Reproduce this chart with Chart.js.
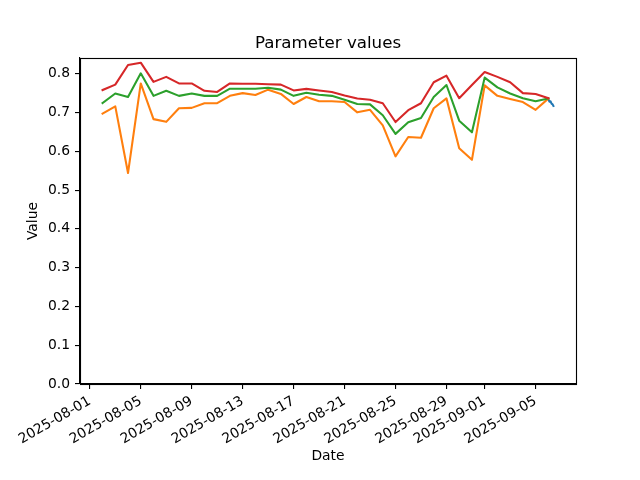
<!DOCTYPE html>
<html>
<head>
<meta charset="utf-8">
<script src="https://cdn.jsdelivr.net/npm/chart.js@4/dist/chart.umd.min.js"></script>
<style>
  html, body { margin: 0; padding: 0; background: #ffffff; }
  #c { display: block; }
</style>
</head>
<body>
<canvas id="c" width="640" height="480"></canvas>
<script>
// ---- data ----
const dates = [
  '2025-08-02','2025-08-03','2025-08-04','2025-08-05','2025-08-06','2025-08-07','2025-08-08','2025-08-09',
  '2025-08-10','2025-08-11','2025-08-12','2025-08-13','2025-08-14','2025-08-15','2025-08-16','2025-08-17',
  '2025-08-18','2025-08-19','2025-08-20','2025-08-21','2025-08-22','2025-08-23','2025-08-24','2025-08-25',
  '2025-08-26','2025-08-27','2025-08-28','2025-08-29','2025-08-30','2025-08-31','2025-09-01','2025-09-02',
  '2025-09-03','2025-09-04','2025-09-05','2025-09-06'
];
const orangeValues = [
  0.697, 0.716, 0.544, 0.775, 0.683, 0.676, 0.711, 0.712,
  0.724, 0.724, 0.743, 0.750, 0.745, 0.759, 0.748, 0.722,
  0.740, 0.729, 0.729, 0.727, 0.7005, 0.707, 0.667, 0.587,
  0.637, 0.635, 0.711, 0.7365, 0.608, 0.578, 0.770, 0.743,
  0.735, 0.727, 0.707, 0.736
];
const greenValues = [
  0.7245, 0.749, 0.740, 0.801, 0.743, 0.756, 0.743, 0.749,
  0.743, 0.743, 0.7615, 0.7615, 0.7615, 0.764, 0.759, 0.743,
  0.751, 0.746, 0.743, 0.733, 0.722, 0.721, 0.693, 0.645,
  0.675, 0.686, 0.740, 0.771, 0.679, 0.649, 0.790, 0.765,
  0.749, 0.737, 0.729, 0.736
];
const redValues = [
  0.758, 0.772, 0.8225, 0.8285, 0.779, 0.792, 0.775, 0.775,
  0.756, 0.753, 0.775, 0.774, 0.774, 0.773, 0.772, 0.757,
  0.761, 0.757, 0.753, 0.744, 0.736, 0.733, 0.724, 0.6755,
  0.706, 0.724, 0.778, 0.795, 0.737, 0.771, 0.8045, 0.792,
  0.778, 0.750, 0.748, 0.737
];
const blueTimes = ['2025-09-06T00:00Z','2025-09-06T02:00Z','2025-09-06T04:00Z','2025-09-06T06:00Z','2025-09-06T08:00Z','2025-09-06T09:30Z'];
const blueValues = [0.734, 0.728, 0.729, 0.723, 0.721, 0.717];

const xTickLabels = ['2025-08-01','2025-08-05','2025-08-09','2025-08-13','2025-08-17','2025-08-21',
                     '2025-08-25','2025-08-29','2025-09-01','2025-09-05'];
const yTickValues = [0.0, 0.1, 0.2, 0.3, 0.4, 0.5, 0.6, 0.7, 0.8];

// ---- helpers ----
const DAY = 86400000;
const origin = Date.parse('2025-08-01');
const toDay = s => (Date.parse(s) - origin) / DAY;
const xTickDays = xTickLabels.map(toDay);
const series = (xs, ys) => xs.map((d, i) => ({ x: toDay(d), y: ys[i] }));

const FONT = 'DejaVu Sans';
const fs = 13.89;

const framePlugin = {
  id: 'frame',
  afterDatasetsDraw(chart) {
    const a = chart.chartArea, ctx = chart.ctx;
    ctx.save();
    ctx.strokeStyle = '#000';
    ctx.lineWidth = 1.11;
    ctx.strokeRect(Math.round(a.left) + 0.5, Math.round(a.top) + 0.5,
                   Math.round(a.right - a.left), Math.round(a.bottom - a.top));
    ctx.restore();
  }
};

const lineDs = (label, data, color, order) => ({
  label, data, borderColor: color, backgroundColor: color,
  borderWidth: 2.08, pointRadius: 0, tension: 0, fill: false,
  borderJoinStyle: 'round', borderCapStyle: 'square', order
});

new Chart(document.getElementById('c'), {
  type: 'line',
  data: {
    datasets: [
      lineDs('blue', series(blueTimes, blueValues), '#1f77b4', 3),
      lineDs('orange', series(dates, orangeValues), '#ff7f0e', 2),
      lineDs('green', series(dates, greenValues), '#2ca02c', 1),
      lineDs('red', series(dates, redValues), '#d62728', 0)
    ]
  },
  plugins: [framePlugin],
  options: {
    responsive: false,
    animation: false,
    devicePixelRatio: 1,
    layout: { padding: { top: 0, right: 64, left: 0, bottom: 0 } },
    plugins: {
      legend: { display: false },
      tooltip: { enabled: false },
      title: {
        display: true, text: 'Parameter values', color: '#000', fullSize: false,
        font: { family: FONT, size: 16.67, weight: 'normal' },
        padding: { top: 34, bottom: 4 }
      }
    },
    scales: {
      x: {
        type: 'linear', min: -0.77, max: 38.17,
        afterBuildTicks: s => { s.ticks = xTickDays.map(v => ({ value: v })); },
        afterFit: s => { s.height = 96; },
        ticks: {
          autoSkip: false, minRotation: 30, maxRotation: 30, color: '#000', padding: 4,
          font: { family: FONT, size: fs },
          callback: (v) => { const i = xTickDays.indexOf(v); return i >= 0 ? xTickLabels[i] : ''; }
        },
        grid: { drawOnChartArea: false, color: '#000', tickLength: 5, lineWidth: 1.11 },
        border: { color: '#000', width: 1.11 },
        title: { display: true, text: 'Date', color: '#000', font: { family: FONT, size: fs }, padding: { top: 0, bottom: 15.5 } }
      },
      y: {
        type: 'linear', min: 0, max: 0.8406,
        afterBuildTicks: s => { s.ticks = yTickValues.map(v => ({ value: v })); },
        afterFit: s => { s.width = 80; },
        ticks: {
          color: '#000', padding: 5, font: { family: FONT, size: fs },
          callback: v => Number(v).toFixed(1)
        },
        grid: { drawOnChartArea: false, color: '#000', tickLength: 5, lineWidth: 1.11 },
        border: { color: '#000', width: 1.11 },
        title: { display: true, text: 'Value', color: '#000', font: { family: FONT, size: fs }, padding: { top: 25, bottom: 0 } }
      }
    }
  }
});
</script>
</body>
</html>
